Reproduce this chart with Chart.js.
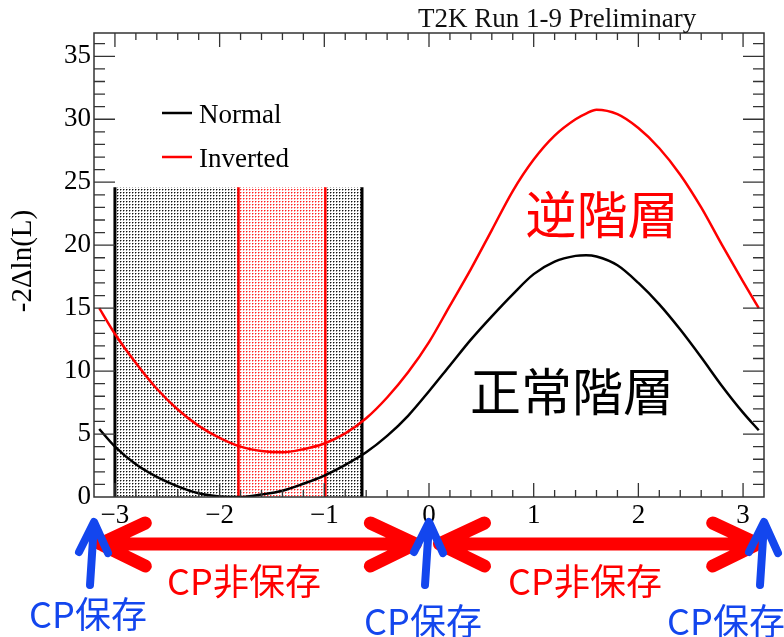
<!DOCTYPE html>
<html><head><meta charset="utf-8">
<script src="https://cdn.jsdelivr.net/npm/chart.js@4"></script>
<style>html,body{margin:0;padding:0;background:#fff;}#wrap{width:784px;height:637px;}</style>
</head><body><div id="wrap"><canvas id="c" width="784" height="637"></canvas></div>
<script>
// ---- data ----
const phase = [-3.15,-3.0,-2.8,-2.6,-2.4,-2.2,-2.0,-1.8,-1.6,-1.4,-1.2,-1.0,-0.8,-0.6,-0.4,-0.2,0.0,0.2,0.4,0.6,0.8,1.0,1.2,1.4,1.5,1.6,1.8,2.0,2.2,2.4,2.6,2.8,3.0,3.15];
const normalNLL = [5.4,4.0,2.6,1.6,0.85,0.3,0.05,0.0,0.2,0.5,1.05,1.7,2.55,3.55,4.85,6.45,8.4,10.45,12.5,14.35,16.1,17.7,18.7,19.15,19.2,19.1,18.4,17.0,15.3,13.3,11.1,8.8,6.7,5.3];
const invertedNLL = [15.0,12.95,10.65,8.6,6.95,5.65,4.7,4.0,3.65,3.55,3.8,4.25,5.05,6.25,7.9,9.9,12.3,15.2,18.1,21.2,24.3,26.8,28.7,30.0,30.45,30.75,30.4,29.3,27.7,25.6,23.0,20.0,17.1,15.0];
const normalInterval = [-3.0, -0.64];
const invertedInterval = [-1.82, -0.99];
const intervalTop = 24.6;
const xTicks = [-3,-2,-1,0,1,2,3];
const yTicks = [0,5,10,15,20,25,30,35];
const legendLabels = ['Normal','Inverted'];
const plotTitle = 'T2K Run 1-9 Preliminary';
const yTitle = '-2\u0394ln(L)';
const hierarchyLabels = ['逆階層','正常階層'];
const conservedAt = [-3.2, 0, 3.2];
const violationRanges = [[-3.14, -0.13],[0.1, 3.14]];
const conservedLabel = 'CP保存';
const violatedLabel = 'CP非保存';

// ---- styles ----
const SERIF = '"Liberation Serif","DejaVu Serif",serif';
const CJK = '"Noto Sans CJK JP","Noto Sans CJK SC",sans-serif';
const BLUE = '#1346ee';
const RED = '#ff0000';

const ctx = document.getElementById('c').getContext('2d');
function makePattern(dark, soft){
  const t = document.createElement('canvas'); t.width = 3; t.height = 3;
  const g = t.getContext('2d');
  g.fillStyle = '#fff'; g.fillRect(0,0,3,3);
  g.fillStyle = soft; g.fillRect(1,0,1,1); g.fillRect(0,1,1,1);
  g.fillStyle = dark; g.fillRect(0,0,1,1);
  return ctx.createPattern(t,'repeat');
}
const blackDots = makePattern('#111', '#999');
const redDots = makePattern('#ff2020', '#ff9a9a');

const curve = ys => phase.map((x,i)=>({x, y: ys[i]}));
const vlines = iv => [{x:iv[0],y:0},{x:iv[0],y:intervalTop},{x:iv[0],y:null},{x:iv[1],y:intervalTop},{x:iv[1],y:0}];
const band = iv => [{x:iv[0],y:intervalTop},{x:iv[1],y:intervalTop}];

const decor = {
  id: 'decor',
  afterDraw(chart){
    const c = chart.ctx, a = chart.chartArea, xs = chart.scales.x, ys = chart.scales.y;
    c.save();
    // frame
    c.strokeStyle = '#333'; c.lineWidth = 1.5;
    c.strokeRect(a.left, a.top, a.right - a.left, a.bottom - a.top);
    // inside ticks
    c.beginPath();
    for (let i = -15; i <= 15; i++) {
      const v = i * 0.2, px = xs.getPixelForValue(v);
      const major = i % 5 === 0 && Math.abs(v - Math.round(v)) < 1e-6;
      const len = major ? 14 : 7;
      c.moveTo(px, a.bottom); c.lineTo(px, a.bottom - len);
      c.moveTo(px, a.top); c.lineTo(px, a.top + len);
    }
    for (let v = 1; v <= 36; v++) {
      const py = ys.getPixelForValue(v);
      const len = v % 5 === 0 ? 21 : 11;
      c.moveTo(a.left, py); c.lineTo(a.left + len, py);
      c.moveTo(a.right, py); c.lineTo(a.right - len, py);
    }
    c.lineWidth = 1.3; c.stroke();

    // title
    c.fillStyle = '#111'; c.font = '27px ' + SERIF;
    c.textAlign = 'left'; c.textBaseline = 'alphabetic';
    c.fillText(plotTitle, 418, 27);

    // y title
    c.save(); c.translate(23, 261); c.rotate(-Math.PI/2);
    c.fillStyle = '#000'; c.font = '29px ' + SERIF; c.textAlign = 'center'; c.textBaseline = 'middle';
    c.fillText(yTitle, 0, 0); c.restore();

    // legend
    const legColors = ['#000', RED];
    c.font = '27px ' + SERIF; c.textAlign = 'left'; c.textBaseline = 'alphabetic';
    legendLabels.forEach((t,i)=>{
      const ly = 113 + i*44;
      c.strokeStyle = legColors[i]; c.lineWidth = 2.5;
      c.beginPath(); c.moveTo(162, ly); c.lineTo(192, ly); c.stroke();
      c.fillStyle = '#000'; c.fillText(t, 199, ly + 10);
    });

    // hierarchy labels
    c.font = '51px ' + CJK; c.textAlign = 'center'; c.textBaseline = 'middle';
    c.fillStyle = RED; c.fillText(hierarchyLabels[0], 602, 215);
    c.fillStyle = '#000'; c.fillText(hierarchyLabels[1], 572, 392);

    // red double arrows
    const ay = a.bottom + 47;
    c.strokeStyle = RED; c.lineWidth = 13; c.lineCap = 'round'; c.lineJoin = 'round';
    violationRanges.forEach(r=>{
      const x0 = xs.getPixelForValue(r[0]), x1 = xs.getPixelForValue(r[1]);
      c.beginPath();
      c.moveTo(x0, ay); c.lineTo(x1, ay);
      c.moveTo(x0 + 45, ay - 21); c.lineTo(x0, ay); c.lineTo(x0 + 45, ay + 22);
      c.moveTo(x1 - 45, ay - 21); c.lineTo(x1, ay); c.lineTo(x1 - 45, ay + 22);
      c.stroke();
    });
    // blue arrows
    c.strokeStyle = BLUE; c.lineWidth = 8;
    conservedAt.forEach(v=>{
      const px = xs.getPixelForValue(v);
      const ty = a.bottom + 25;
      c.beginPath();
      c.moveTo(px - 4, a.bottom + 88); c.lineTo(px, ty + 2);
      c.moveTo(px - 15, ty + 30); c.lineTo(px, ty); c.lineTo(px + 14, ty + 31);
      c.stroke();
    });
    // labels under arrows
    c.font = '36px ' + CJK; c.textAlign = 'center'; c.textBaseline = 'middle';
    c.fillStyle = RED;
    c.fillText(violatedLabel, 244, 581);
    c.fillText(violatedLabel, 585, 581);
    c.fillStyle = BLUE;
    c.fillText(conservedLabel, 88, 614);
    c.fillText(conservedLabel, 423, 621);
    c.fillText(conservedLabel, 726, 621);
    c.restore();
  }
};

new Chart(ctx, {
  type: 'line',
  data: {
    datasets: [
      {label: legendLabels[0], data: curve(normalNLL), borderColor: '#000', borderWidth: 2.5, pointRadius: 0, cubicInterpolationMode: 'monotone', fill: false},
      {label: legendLabels[1], data: curve(invertedNLL), borderColor: RED, borderWidth: 2.5, pointRadius: 0, cubicInterpolationMode: 'monotone', fill: false},
      {label: 'inv-lines', data: vlines(invertedInterval), borderColor: RED, borderWidth: 2.5, pointRadius: 0, fill: false, spanGaps: false},
      {label: 'inv-band', data: band(invertedInterval), borderColor: 'rgba(0,0,0,0)', borderWidth: 1, pointRadius: 0, fill: 'origin', backgroundColor: redDots},
      {label: 'norm-lines', data: vlines(normalInterval), borderColor: '#000', borderWidth: 3, pointRadius: 0, fill: false, spanGaps: false},
      {label: 'norm-band', data: band(normalInterval), borderColor: 'rgba(0,0,0,0)', borderWidth: 1, pointRadius: 0, fill: 'origin', backgroundColor: blackDots}
    ]
  },
  options: {
    responsive: false,
    animation: false,
    events: [],
    layout: {padding: {left: 0, right: 20, top: 33, bottom: 100}},
    plugins: {legend: {display: false}, tooltip: {enabled: false}, title: {display: false}},
    scales: {
      x: {
        type: 'linear', min: -3.2, max: 3.2,
        grid: {display: false, drawTicks: false}, border: {display: false},
        ticks: {stepSize: 1, includeBounds: false, autoSkip: false, maxRotation: 0, padding: 3,
          color: '#000', font: {family: SERIF, size: 27},
          callback: v => xTicks.includes(v) ? (v < 0 ? '\u2212' + Math.abs(v) : String(v)) : ''},
        afterFit: s => { s.height = 40; }
      },
      y: {
        min: 0, max: 36.85,
        grid: {display: false, drawTicks: false}, border: {display: false},
        ticks: {stepSize: 5, includeBounds: false, padding: 3, color: '#000', font: {family: SERIF, size: 27},
          callback: v => yTicks.includes(v) ? String(v) : ''},
        afterFit: s => { s.width = 94; }
      }
    }
  },
  plugins: [decor]
});
</script></body></html>
